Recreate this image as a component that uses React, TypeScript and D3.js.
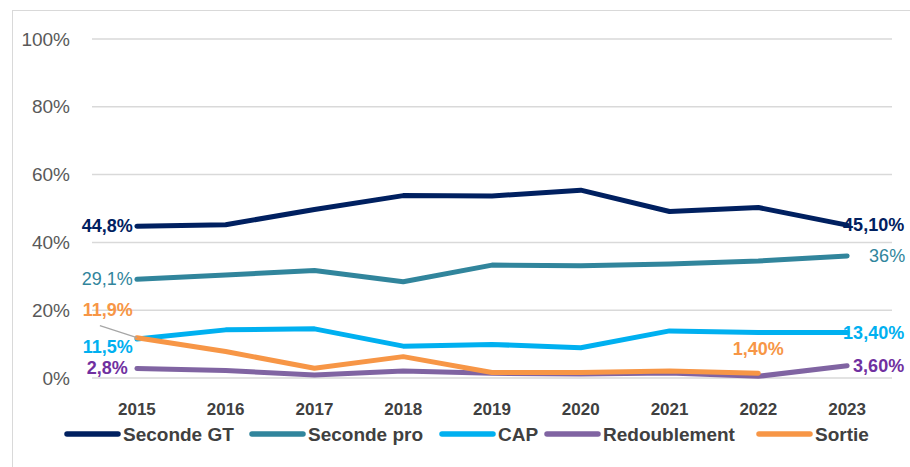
import React, { useEffect } from 'react'
import * as d3 from 'd3'

const years = ['2015', '2016', '2017', '2018', '2019', '2020', '2021', '2022', '2023']
const secondeGT = [44.8, 45.2, 49.7, 53.8, 53.7, 55.4, 49.1, 50.3, 45.1]
const secondePro = [29.1, 30.4, 31.7, 28.4, 33.3, 33.1, 33.6, 34.5, 36]
const cap = [11.5, 14.2, 14.5, 9.4, 9.9, 8.9, 13.9, 13.4, 13.4]
const redoublement = [2.8, 2.2, 0.9, 2.1, 1.4, 1.2, 1.5, 0.5, 3.6]
const sortie = [11.9, 7.8, 2.9, 6.3, 1.6, 1.6, 2.1, 1.4]
const yTicks = [0, 20, 40, 60, 80, 100]

const series = [
  { name: 'Seconde GT', color: '#002060', label: '#002060', values: secondeGT },
  { name: 'Seconde pro', color: '#31859C', label: '#31859C', values: secondePro },
  { name: 'CAP', color: '#00B0F0', label: '#00B0F0', values: cap },
  { name: 'Redoublement', color: '#8064A2', label: '#7030A0', values: redoublement },
  { name: 'Sortie', color: '#F79646', label: '#F79646', values: sortie },
]

const FONT = "'Liberation Sans', Arial, sans-serif"

export default function App() {
  useEffect(() => {
    document.body.style.margin = '0'
  }, [])

  const width = 910
  const height = 467
  const x = d3.scaleBand().domain(years).range([92.5, 891.5])
  const cx = (i: number) => (x(years[i]) as number) + x.bandwidth() / 2
  const y = d3.scaleLinear().domain([0, 100]).range([378, 39])

  const line = d3
    .line<number>()
    .x((_, i) => cx(i))
    .y((d) => y(d))

  // data labels: [series index, point index, text, dx, dy, anchor, bold]
  const last = years.length - 1
  const labels: [number, number, string, number, number, string, boolean][] = [
    [0, 0, '44,8%', -4, 6, 'end', true],
    [1, 0, '29,1%', -4, 6, 'end', false],
    [4, 0, '11,9%', -4, -22, 'end', true],
    [2, 0, '11,5%', -4, 14, 'end', true],
    [3, 0, '2,8%', -9, 5, 'end', true],
    [0, last, '45,10%', -4, 6, 'start', true],
    [1, last, '36%', 22, 6, 'start', false],
    [2, last, '13,40%', -4, 6, 'start', true],
    [4, 7, '1,40%', 0, -18, 'middle', true],
    [3, last, '3,60%', 6, 6, 'start', true],
  ]

  const legendX = [65, 250, 440, 545, 757]

  return (
    <svg width={width} height={height} style={{ display: 'block', background: '#fff' }}>
      <rect x={12.5} y={10.5} width={920} height={480} fill="none" stroke="#d9d9d9" />
      {yTicks.map((t) => (
        <g key={t}>
          <line x1={92} x2={892} y1={y(t)} y2={y(t)} stroke="#d9d9d9" strokeWidth={1.5} />
          <text x={70} y={y(t)} dy="0.35em" textAnchor="end" fontFamily={FONT} fontSize={19} fill="#595959">
            {t}%
          </text>
        </g>
      ))}
      {years.map((yr, i) => (
        <text key={yr} x={cx(i)} y={409} dy="0.35em" textAnchor="middle" fontFamily={FONT} fontSize={17} fontWeight="bold" fill="#404040">
          {yr}
        </text>
      ))}
      {series.map((s) => (
        <path key={s.name} d={line(s.values) || ''} fill="none" stroke={s.color} strokeWidth={5} strokeLinejoin="round" strokeLinecap="round" />
      ))}
      <line x1={cx(0) - 37} y1={y(11.9) - 12} x2={cx(0)} y2={y(11.9)} stroke="#a6a6a6" strokeWidth={1.2} />
      {labels.map(([si, pi, txt, dx, dy, anchor, bold]) => (
        <text
          key={txt}
          x={cx(pi) + dx}
          y={y(series[si].values[pi]) + dy}
          textAnchor={anchor as any}
          fontFamily={FONT}
          fontSize={18}
          fontWeight={bold ? 'bold' : 'normal'}
          fill={series[si].label}
        >
          {txt}
        </text>
      ))}
      {series.map((s, i) => (
        <g key={s.name} transform={`translate(${legendX[i]},434)`}>
          <line x1={2} x2={53} y1={0} y2={0} stroke={s.color} strokeWidth={5.5} strokeLinecap="round" />
          <text x={58} y={0} dy="0.35em" fontFamily={FONT} fontSize={19} fontWeight="bold" fill="#404040">
            {s.name}
          </text>
        </g>
      ))}
    </svg>
  )
}
